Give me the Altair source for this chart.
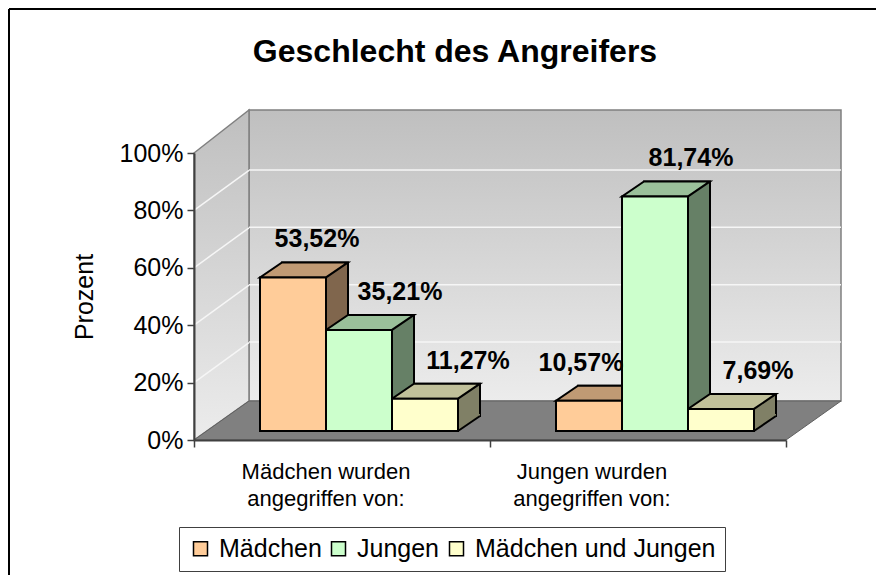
import altair as alt
import pandas as pd

# ---- data ----
categories = ["Mädchen wurden\nangegriffen von:", "Jungen wurden\nangegriffen von:"]
series = ["Mädchen", "Jungen", "Mädchen und Jungen"]
values_maedchen_angegriffen = [53.52, 35.21, 11.27]
values_jungen_angegriffen = [10.57, 81.74, 7.69]
y_ticks = [0, 20, 40, 60, 80, 100]
title_text = "Geschlecht des Angreifers"
y_title = "Prozent"

# ---- style ----
FONT = "Liberation Sans"
front_colors = ["#FFCC99", "#CCFFCC", "#FFFFCC"]
top_colors = ["#C09A74", "#9AC09A", "#C0C09A"]
side_colors = ["#80664D", "#668066", "#808066"]
W, H = 592, 287
PAD = {"left": 186, "top": 145, "right": 91, "bottom": 136}
BW = 66
DX, DY = 22, 15
BASE_Y = -9
SW = 2
series_shift = [-49, 17, 83]
label_dx = {(0, 0): 24, (0, 1): 41, (0, 2): 43, (1, 0): -8, (1, 1): 36, (1, 2): 37}
cat_dx = [-16, -46]

rows = []
for ci, vals in enumerate([values_maedchen_angegriffen, values_jungen_angegriffen]):
    for si, v in enumerate(vals):
        rows.append({"category": categories[ci], "series": series[si], "value": v, "ci": ci, "si": si})
df = pd.DataFrame(rows)
one = pd.DataFrame({"k": [0]})
ticks_df = pd.DataFrame({"t": y_ticks})
cat_df = pd.DataFrame({"category": categories, "ci": [0, 1]})

x_scale = alt.Scale(domain=categories, paddingInner=0, paddingOuter=0)
y_scale = alt.Scale(domain=[0, 100], nice=False)

x_axis = alt.Axis(labels=False, title=None, tickBand="extent", tickSize=7, tickColor="#404040",
                  tickWidth=1.5, domainColor="#404040", domainWidth=2, zindex=1)
y_axis = alt.Axis(values=y_ticks, labelExpr="datum.value + '%'", labelFontSize=25, labelColor="black",
                  tickSize=7, tickColor="#404040", tickWidth=1.5, domainColor="#404040", domainWidth=2,
                  labelPadding=4, grid=False, title=y_title, titleFontSize=25, titleFontWeight="normal",
                  titleColor="black", titleX=-110, titleY=H / 2, titleAngle=-90, titleAlign="center",
                  titleBaseline="middle", zindex=1)

X = alt.X("category:N", scale=x_scale, axis=x_axis, title=None)
Y = alt.Y("value:Q", scale=y_scale, axis=y_axis, title=y_title)
YZ = alt.Y("zero:Q", scale=y_scale, axis=y_axis, title=y_title)
YT = alt.Y("t:Q", scale=y_scale, axis=y_axis, title=y_title)

wall_grad = alt.Gradient(gradient="linear", x1=0, x2=0, y1=0, y2=1,
                         stops=[alt.GradientStop(color="#bfbfbf", offset=0),
                                alt.GradientStop(color="#ececec", offset=1)])

# ---- decorations (3D frame) ----
border_top = alt.Chart(one).mark_rule(color="black", strokeWidth=2).encode(
    x=alt.value(9 - 194), x2=alt.value(W + PAD["right"] - 1), y=alt.value(9 - 153))
border_left = alt.Chart(one).mark_rule(color="black", strokeWidth=2).encode(
    x=alt.value(9 - 194), y=alt.value(9 - 153), y2=alt.value(H + PAD["bottom"] - 1))

back_wall = alt.Chart(one).mark_rect(fill=wall_grad, stroke="#808080", strokeWidth=1.5).encode(
    x=alt.value(55), x2=alt.value(W + 55), y=alt.value(-43), y2=alt.value(H - 39))

side_wall = alt.Chart(one).mark_point(
    shape="M0,0 L55,-43 L55,248 L0,287 Z", size=4, filled=True, fill=wall_grad,
    stroke="#808080", strokeWidth=1.5, opacity=1).encode(x=alt.value(0), y=alt.value(0))

back_grid = alt.Chart(ticks_df).transform_filter("datum.t > 0 && datum.t < 100").mark_rule(
    color="#f6f6f6", strokeWidth=1.5, yOffset=-40.5).encode(
    y=YT, x=alt.value(55), x2=alt.value(W + 55))

side_grid = alt.Chart(ticks_df).transform_filter("datum.t > 0 && datum.t < 100").mark_point(
    shape="M0,0 L55,-40", size=4, filled=False, stroke="#f6f6f6", strokeWidth=1.5, opacity=1).encode(
    y=YT, x=alt.value(0))

floor = alt.Chart(one).mark_point(
    shape=f"M0,0 L55,-39 L{W + 55},-39 L{W},0 Z", size=4, filled=True, fill="#808080",
    stroke="#606060", strokeWidth=1, opacity=1).encode(x=alt.value(0), y=alt.value(H))

title_mark = alt.Chart(one).mark_text(
    text=title_text, fontSize=32, fontWeight="bold", color="black", align="center",
    baseline="alphabetic").encode(x=alt.value(261), y=alt.value(-91))

layers = [border_top, border_left, back_wall, side_wall, back_grid, side_grid, floor, title_mark]

# ---- bars ----
base = alt.Chart(df)

for si, s in enumerate(series):
    layers.append(
        base.transform_filter(f"datum.si == {si}").mark_bar(
            width=BW, xOffset=series_shift[si] + DX,
            fill=side_colors[si], stroke="black", strokeWidth=SW,
            yOffset=BASE_Y - DY, y2Offset=BASE_Y - DY).encode(
            x=X, y=Y, y2=alt.datum(0)))

for si, s in enumerate(series):
    sub = base.transform_filter(f"datum.si == {si}").transform_calculate(zero="0")
    layers.append(
        sub.mark_point(
            shape="M33,0 L55,-15 L55,-17 L33,-17 Z", size=4, filled=True, fill=side_colors[si],
            strokeWidth=0, opacity=1, xOffset=series_shift[si], yOffset=BASE_Y).encode(x=X, y=YZ))
    layers.append(
        sub.mark_point(
            shape="M33,0 L55,-15", size=4, filled=False, stroke="black",
            strokeWidth=SW, opacity=1, xOffset=series_shift[si], yOffset=BASE_Y).encode(x=X, y=YZ))

for si, s in enumerate(series):
    layers.append(
        base.transform_filter(f"datum.si == {si}").mark_point(
            shape="M-33,0 L33,0 L55,-15 L-11,-15 Z", size=4, filled=True, fill=top_colors[si],
            stroke="black", strokeWidth=SW, opacity=1, xOffset=series_shift[si], yOffset=BASE_Y).encode(
            x=X, y=Y))

color_enc = alt.Color("series:N", scale=alt.Scale(domain=series, range=front_colors), legend=alt.Legend(
    orient="none", legendX=-15, legendY=374, direction="horizontal", title=None,
    labelFontSize=25, labelColor="black", labelLimit=400, symbolType="square", symbolSize=196,
    symbolStrokeColor="black", symbolStrokeWidth=1.5, symbolOpacity=1,
    strokeColor="#404040", fillColor="white", padding=9, labelOffset=6, columnPadding=4))

for si, s in enumerate(series):
    layers.append(
        base.transform_filter(f"datum.si == {si}").mark_bar(
            width=BW, xOffset=series_shift[si], stroke="black", strokeWidth=SW,
            yOffset=BASE_Y, y2Offset=BASE_Y, opacity=1).encode(
            x=X, y=Y, y2=alt.datum(0), color=color_enc))

for (ci, si), dx in label_dx.items():
    layers.append(
        base.transform_filter(f"datum.ci == {ci} && datum.si == {si}").transform_calculate(
            lab="replace(format(datum.value, '.2f'), '.', ',') + '%'").mark_text(
            fontSize=25, fontWeight="bold", color="black", baseline="alphabetic",
            align="center", dx=series_shift[si] + dx, dy=-39).encode(
            x=X, y=Y, text="lab:N"))

for ci in range(len(categories)):
    layers.append(
        alt.Chart(cat_df).transform_filter(f"datum.ci == {ci}").mark_text(
            fontSize=22, color="black", baseline="top", align="center", lineBreak="\n",
            lineHeight=27, dx=cat_dx[ci]).encode(
            x=X, y=alt.value(H + 22), text="category:N"))

chart = alt.layer(*layers).properties(
    width=W, height=H,
    autosize=alt.AutoSizeParams(type="none"),
    padding=PAD,
).configure(font=FONT, background="white").configure_view(stroke=None)

chart.save("out.html", embed_options={"renderer": "svg", "actions": False})
